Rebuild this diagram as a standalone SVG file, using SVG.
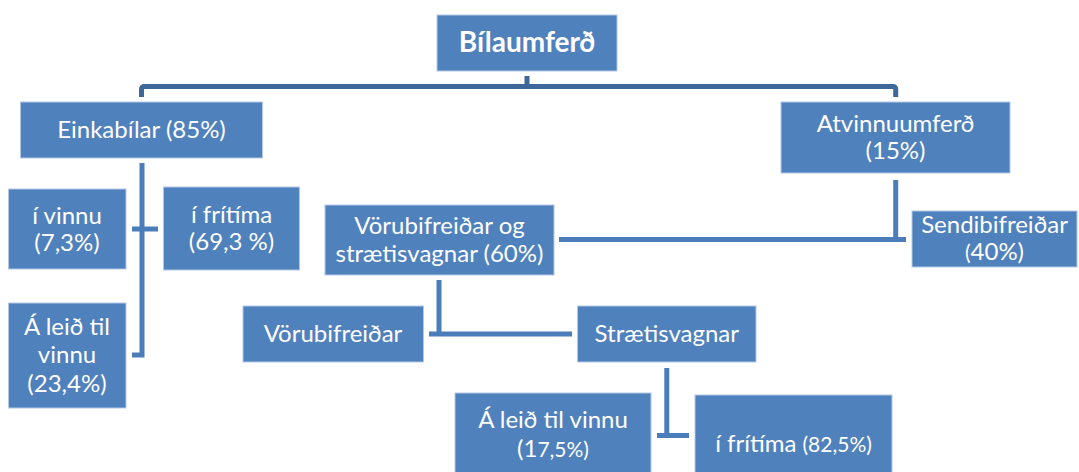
<svg xmlns="http://www.w3.org/2000/svg" width="1079" height="472" viewBox="0 0 1079 472">
<style>
.box{fill:#4F81BD;stroke:#B4C8E4;stroke-width:1}
.t{font-family:Lato,"Liberation Sans",sans-serif;font-size:24px;fill:#FFFFFF;text-anchor:middle}
.b{font-weight:bold;font-size:28px}
.s{font-size:21px}
.c{fill:none;stroke:#4A7DBA;stroke-width:5}
.cd{fill:none;stroke:#3D6899;stroke-width:5}
</style>
<rect width="1079" height="472" fill="#FFFFFF"/>
<g id="connectors">
<path class="cd" d="M141.5,97 V89.5 Q141.5,86.5 144.5,86.5 H892.7 Q895.7,86.5 895.7,89.5 V97"/>
<path class="cd" d="M527,76 V86.5"/>
<path class="c" d="M142,163 V355 H132"/>
<path class="c" d="M132,229 H158"/>
<path class="c" d="M895.7,180 V239.5"/>
<path class="c" d="M559,239.5 H906"/>
<path class="c" d="M439,280 V334"/>
<path class="c" d="M429,334 H572"/>
<path class="c" d="M666.8,368 V435.5"/>
<path class="c" d="M657,435.5 H689"/>
</g>
<g id="bilaumferd">
<rect class="box" x="437" y="15" width="180" height="56"/>
<text class="t b" x="527" y="52">Bílaumferð</text>
</g>
<g id="einkabilar">
<rect class="box" x="20.5" y="102" width="242" height="56"/>
<text class="t" x="141.5" y="138">Einkabílar (85%)</text>
</g>
<g id="atvinnuumferd">
<rect class="box" x="781" y="102" width="229" height="71"/>
<text class="t" x="895.5" y="132">Atvinnuumferð</text>
<text class="t" x="895.5" y="159">(15%)</text>
</g>
<g id="i-vinnu">
<rect class="box" x="8.5" y="189" width="117.5" height="80"/>
<text class="t" x="67" y="223.5">í vinnu</text>
<text class="t" x="67" y="250.5">(7,3%)</text>
</g>
<g id="i-fritima">
<rect class="box" x="163.5" y="187" width="136" height="83"/>
<text class="t" x="231.5" y="223">í frítíma</text>
<text class="t" x="231.5" y="250">(69,3 %)</text>
</g>
<g id="a-leid-til-vinnu">
<rect class="box" x="8.5" y="303" width="117.5" height="105"/>
<text class="t" x="67" y="334.5">Á leið til</text>
<text class="t" x="67" y="363">vinnu</text>
<text class="t" x="67" y="391.5">(23,4%)</text>
</g>
<g id="vorubifreidar-og-straetisvagnar">
<rect class="box" x="325" y="205" width="229" height="70"/>
<text class="t" x="439.5" y="234">Vörubifreiðar og</text>
<text class="t" x="439.5" y="261.5">strætisvagnar (60%)</text>
</g>
<g id="sendibifreidar">
<rect class="box" x="912" y="211" width="165" height="56"/>
<text class="t" x="994.5" y="232.5">Sendibifreiðar</text>
<text class="t" x="994.5" y="260"><tspan class="s">(</tspan>40%)</text>
</g>
<g id="vorubifreidar">
<rect class="box" x="243" y="306" width="180.5" height="56"/>
<text class="t" x="333" y="342">Vörubifreiðar</text>
</g>
<g id="straetisvagnar">
<rect class="box" x="577.5" y="306" width="178.5" height="56"/>
<text class="t" x="666.8" y="342">Strætisvagnar</text>
</g>
<g id="a-leid-til-vinnu-2">
<rect class="box" x="455" y="393" width="196" height="80"/>
<text class="t" x="553" y="427.5">Á leið til vinnu</text>
<text class="t" x="553" y="456.5">(1<tspan class="s">7,5%)</tspan></text>
</g>
<g id="i-fritima-2">
<rect class="box" x="695" y="395" width="197" height="78"/>
<text class="t" x="793.5" y="452">í frítíma <tspan class="s">(82,5%)</tspan></text>
</g>
</svg>
